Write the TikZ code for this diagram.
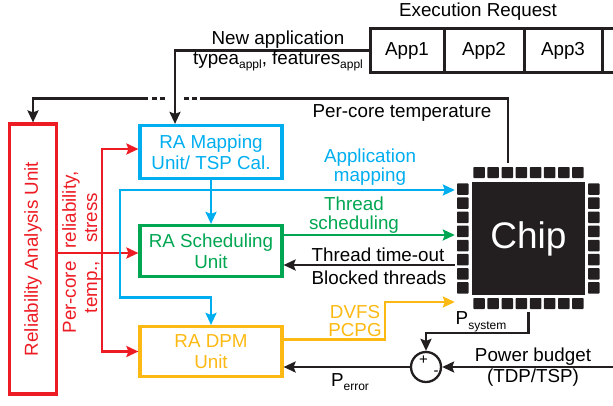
\documentclass[tikz,border=0pt]{standalone}
\usepackage{fontspec}
\setmainfont{Liberation Sans}
\usetikzlibrary{arrows.meta,calc}
\definecolor{cred}{RGB}{237,28,36}
\definecolor{ccyan}{RGB}{0,174,239}
\definecolor{cgreen}{RGB}{0,166,81}
\definecolor{cyellow}{RGB}{253,185,19}
\definecolor{cblack}{RGB}{35,31,32}
\newcommand{\sbx}[1]{\raisebox{-4.5pt}{\fontsize{12}{12}\selectfont #1}}
\tikzset{
  box/.style={draw, line width=3.2pt, minimum width=142pt, inner sep=0pt, align=center},
  conn/.style={line width=2.3pt, -{Stealth[length=12pt,width=11pt,inset=2pt]}},
  plain/.style={line width=2.3pt},
  appbox/.style={draw=cblack, line width=3pt, minimum height=44pt, inner sep=0pt},
  lbl/.style={inner sep=0pt, align=center},
  pad/.style={fill=cblack, rounded corners=0.8pt}
}
\begin{document}
\begin{tikzpicture}[x=1pt,y=-1pt,font=\fontsize{18.8}{21}\selectfont]
\useasboundingbox (0,0) rectangle (613,405);
\clip (0,0) rectangle (613,405);

% Execution request
\node[lbl] (exreq) at (478,12) {Execution Request};
\node[appbox, minimum width=74pt] (app1) at (407,50.5) {App1};
\node[appbox, minimum width=80pt] (app2) at (484,50.5) {App2};
\node[appbox, minimum width=78pt] (app3) at (563,50.5) {App3};
\node[appbox, minimum width=78pt] (app4) at (641,50.5) {};

% Units
\node[box, draw=cred, minimum width=47pt, minimum height=270pt] (rau) at (33,259) {};
\node[rotate=90, text=cred, inner sep=0pt] (raulbl) at (rau.center) {Reliability Analysis Unit};
\node[box, draw=ccyan, text=ccyan, minimum height=53pt] (map) at (211,152) {RA Mapping\\Unit/ TSP Cal.};
\node[box, draw=cgreen, text=cgreen, minimum height=51pt] (sched) at (211,251) {RA Scheduling\\Unit};
\node[box, draw=cyellow, text=cyellow, minimum height=50pt] (dpm) at (211,351.5) {RA DPM\\Unit};

% Chip
\node[fill=cblack, minimum size=113pt, inner sep=0pt, text=white, font=\fontsize{37}{40}\selectfont] (chip) at (528.5,238.5) {Chip};
\foreach \i in {0,...,7}{
  \pgfmathsetmacro{\p}{472+1.3+\i*14.125}
  \pgfmathsetmacro{\q}{182+1.3+\i*14.125}
  \fill[pad] (\p,167) rectangle ++(11.5,11);
  \fill[pad] (\p,298) rectangle ++(11.5,11);
  \fill[pad] (457,\q) rectangle ++(11.5,11.5);
  \fill[pad] (588,\q) rectangle ++(11.5,11.5);
}
\coordinate (cl) at ([xshift=-17pt]chip.west);

% New application
\draw[conn, cblack] (app1.west) -| ([xshift=-36pt]map.north);

% Per-core temperature feedback
\coordinate (tsrc) at ([xshift=-20.5pt,yshift=19pt]chip.north);
\coordinate (t1) at (200,98.5);
\coordinate (t2) at (148,98.5);
\draw[plain, cblack] (tsrc) |- (t1);
\draw[plain, cblack] (192,98.5) -- (197,98.5) (184,98.5) -- (189,98.5)
                     (160,98.5) -- (165,98.5) (152,98.5) -- (157,98.5);
\draw[conn, cblack] (t2) -| (rau.north);

% Red outputs
\coordinate (rj) at (102,253);
\draw[conn, cred] (rau.east |- rj) -- (sched.west |- rj);
\draw[conn, cred] (rj) |- ([yshift=3pt]map.west);
\draw[conn, cred] (rj) |- (dpm.west);

% Blue
\coordinate (bj) at (map.south |- 0,190);
\draw[conn, ccyan] (map.south) -- (sched.north);
\draw[conn, ccyan] (bj) -- (cl |- bj);
\draw[conn, ccyan] (bj) -- (120,190) |- (map.south |- 0,297.5) -- (dpm.north);

% Green
\coordinate (g1) at ([yshift=16pt]sched.east);
\draw[conn, cgreen] (g1) -- (g1 -| cl);

% Black time-out
\coordinate (k1) at ([yshift=-14pt]sched.east);
\draw[conn, cblack] (k1 -| cl) -- (k1);

% Yellow
\coordinate (y1) at ([yshift=12pt]dpm.east);
\draw[conn, cyellow] (y1) -| (385,302) -- (cl |- 0,302);

% Sum
\node[circle, draw=cblack, line width=2.3pt, minimum size=30pt, inner sep=0pt] (sum) at (426,367) {};
\node[inner sep=0pt, font=\fontsize{15}{15}\selectfont] (plus) at (423.5,360) {+};
\node[inner sep=0pt, font=\fontsize{15}{15}\selectfont] (minus) at (436,373) {-};
\draw[conn, cblack] (sum.west) -- (sum.west -| dpm.east);
\coordinate (ps) at ([yshift=-17pt]chip.south);
\draw[conn, cblack] (ps) -- (ps |- 0,333) -| (sum.north);
\coordinate (pb) at (613,367);
\draw[conn, cblack] (pb) -- (sum.east);

% Labels
\node[lbl] (newapp) at (278,40) {New application};
\node[lbl] (typea) at (278,61) {typea\sbx{appl}, features\sbx{appl}};
\node[lbl] (pctemp) at (402,113) {Per-core temperature};
\node[lbl, text=ccyan, font=\fontsize{18.8}{19}\selectfont] (appmap) at (370,167) {Application\\mapping};
\node[lbl, text=cgreen, font=\fontsize{18.8}{18.5}\selectfont] (thsched) at (354,215) {Thread\\scheduling};
\node[lbl] (timeout) at (378,255) {Thread time-out};
\node[lbl] (blocked) at (379,278) {Blocked threads};
\node[lbl, text=cyellow, font=\fontsize{18.8}{18}\selectfont] (dvfs) at (355,321) {DVFS\\PCPG};
\node[lbl] (psys) at (481,322) {P\sbx{system}};
\node[lbl] (pbud) at (533,367) {Power budget\\(TDP/TSP)};
\node[lbl] (perr) at (350,382) {P\sbx{error}};
\node[lbl, rotate=90, text=cred] (rel1) at (71,252.5) {Per-core\hspace{13pt}reliability,};
\node[lbl, rotate=90, text=cred] (rel2) at (93,253) {temp.,\hspace{18pt}stress};
\end{tikzpicture}
\end{document}
